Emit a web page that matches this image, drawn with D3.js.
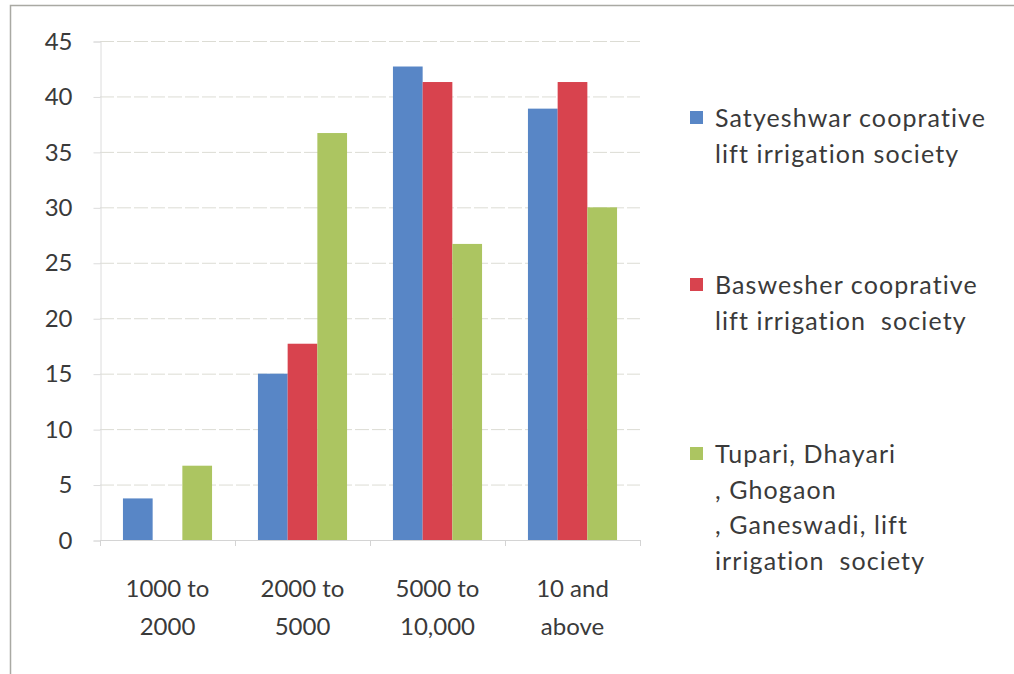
<!DOCTYPE html>
<html>
<head>
<meta charset="utf-8">
<script src="https://cdn.jsdelivr.net/npm/d3@7/dist/d3.min.js"></script>
<style>
  html, body { margin: 0; padding: 0; background: #ffffff; }
  svg { display: block; }
  text { font-family: Lato, "Open Sans", sans-serif; fill: #3a3a3a; }
</style>
</head>
<body>
<svg id="chart" width="1014" height="674"></svg>
<script>
// Land holding ranges (x categories)
const categories = [["1000 to", "2000"], ["2000 to", "5000"], ["5000 to", "10,000"], ["10 and", "above"]];
const categoryKeys = ["1000 to 2000", "2000 to 5000", "5000 to 10,000", "10 and above"];

// Series names as shown in the legend (one array per wrapped line set)
const seriesNames = [
  ["Satyeshwar cooprative", "lift irrigation society"],
  ["Baswesher cooprative", "lift irrigation  society"],
  ["Tupari, Dhayari", ", Ghogaon", ", Ganeswadi, lift", "irrigation  society"]
];
const seriesColors = ["#5886c6", "#d8434e", "#acc561"];

// Values per series, in category order
const satyeshwar = [3.75, 15, 42.7, 38.9];
const baswesher  = [0, 17.7, 41.3, 41.3];
const tupari     = [6.7, 36.7, 26.7, 30];
const seriesValues = [satyeshwar, baswesher, tupari];

const yTicks = [0, 5, 10, 15, 20, 25, 30, 35, 40, 45];

const svg = d3.select("#chart");

// outer frame
svg.append("rect")
  .attr("x", 10.5).attr("y", 5.5)
  .attr("width", 1100).attr("height", 800)
  .attr("fill", "none").attr("stroke", "#a9a9a3").attr("stroke-width", 1.5);

const plot = { left: 100, right: 640, top: 41, bottom: 540 };

const x = d3.scaleBand()
  .domain(categoryKeys)
  .range([plot.left, plot.right])
  .paddingInner(0.34)
  .paddingOuter(0.17);

const xs = d3.scaleBand()
  .domain(d3.range(seriesValues.length))
  .range([0, x.bandwidth()])
  .padding(0);

const y = d3.scaleLinear().domain([0, 45]).range([plot.bottom, plot.top]);

// horizontal gridlines
svg.append("g")
  .selectAll("line")
  .data(yTicks.filter(d => d > 0))
  .join("line")
  .attr("x1", plot.left).attr("x2", plot.right)
  .attr("y1", d => y(d) + 0.5).attr("y2", d => y(d) + 0.5)
  .attr("stroke", "#dcdcd4").attr("stroke-width", 1)
  .attr("stroke-dasharray", "14,3");

// y axis
const yAxis = d3.axisLeft(y).tickValues(yTicks).tickSize(7).tickPadding(21).tickFormat(d3.format("d"));
const gy = svg.append("g").attr("transform", `translate(${plot.left + 0.5},0.5)`).call(yAxis);
gy.select(".domain").attr("stroke", "#dcdcdc");
gy.selectAll(".tick line").attr("stroke", "#dcdcdc");
gy.selectAll(".tick text")
  .attr("font-size", 24)
  .style("font-family", "Lato, sans-serif")
  .attr("fill", "#3a3a3a");

// bars
const groups = svg.append("g")
  .selectAll("g")
  .data(categoryKeys)
  .join("g")
  .attr("transform", d => `translate(${x(d)},0)`);

groups.selectAll("rect")
  .data((d, i) => seriesValues.map((vals, s) => ({ s, v: vals[i] })))
  .join("rect")
  .attr("x", d => xs(d.s))
  .attr("width", xs.bandwidth())
  .attr("y", d => y(d.v))
  .attr("height", d => y(0) - y(d.v))
  .attr("fill", d => seriesColors[d.s]);

// x axis line and category separators
const xg = svg.append("g");
xg.append("line")
  .attr("x1", plot.left).attr("x2", plot.right)
  .attr("y1", plot.bottom + 0.5).attr("y2", plot.bottom + 0.5)
  .attr("stroke", "#d4d4d4");
const step = x.step();
xg.selectAll("line.sep")
  .data(d3.range(categoryKeys.length + 1))
  .join("line")
  .attr("class", "sep")
  .attr("x1", i => plot.left + i * step + 0.5).attr("x2", i => plot.left + i * step + 0.5)
  .attr("y1", plot.bottom).attr("y2", plot.bottom + 6)
  .attr("stroke", "#d4d4d4");

// category labels
const xl = svg.append("g")
  .selectAll("text")
  .data(categories)
  .join("text")
  .attr("text-anchor", "middle")
  .attr("font-size", 24)
  .attr("x", (d, i) => x(categoryKeys[i]) + x.bandwidth() / 2)
  .attr("y", 597);
xl.selectAll("tspan")
  .data(d => d)
  .join("tspan")
  .attr("x", function () { return this.parentNode.getAttribute("x"); })
  .attr("dy", (d, i) => i === 0 ? 0 : 38)
  .text(d => d);

// legend
const legendTops = [111, 278, 447];
const legend = svg.append("g")
  .selectAll("g")
  .data(seriesNames)
  .join("g")
  .attr("transform", (d, i) => `translate(690,${legendTops[i]})`);
legend.append("rect")
  .attr("width", 13).attr("height", 13)
  .attr("fill", (d, i) => seriesColors[i]);
legend.append("text")
  .attr("font-size", 25)
  .attr("letter-spacing", 1.1)
  .style("white-space", "pre")
  .attr("x", 25).attr("y", 16)
  .selectAll("tspan")
  .data(d => d)
  .join("tspan")
  .attr("x", 25)
  .attr("dy", (d, i) => i === 0 ? 0 : 35.5)
  .text(d => d);
</script>
</body>
</html>
